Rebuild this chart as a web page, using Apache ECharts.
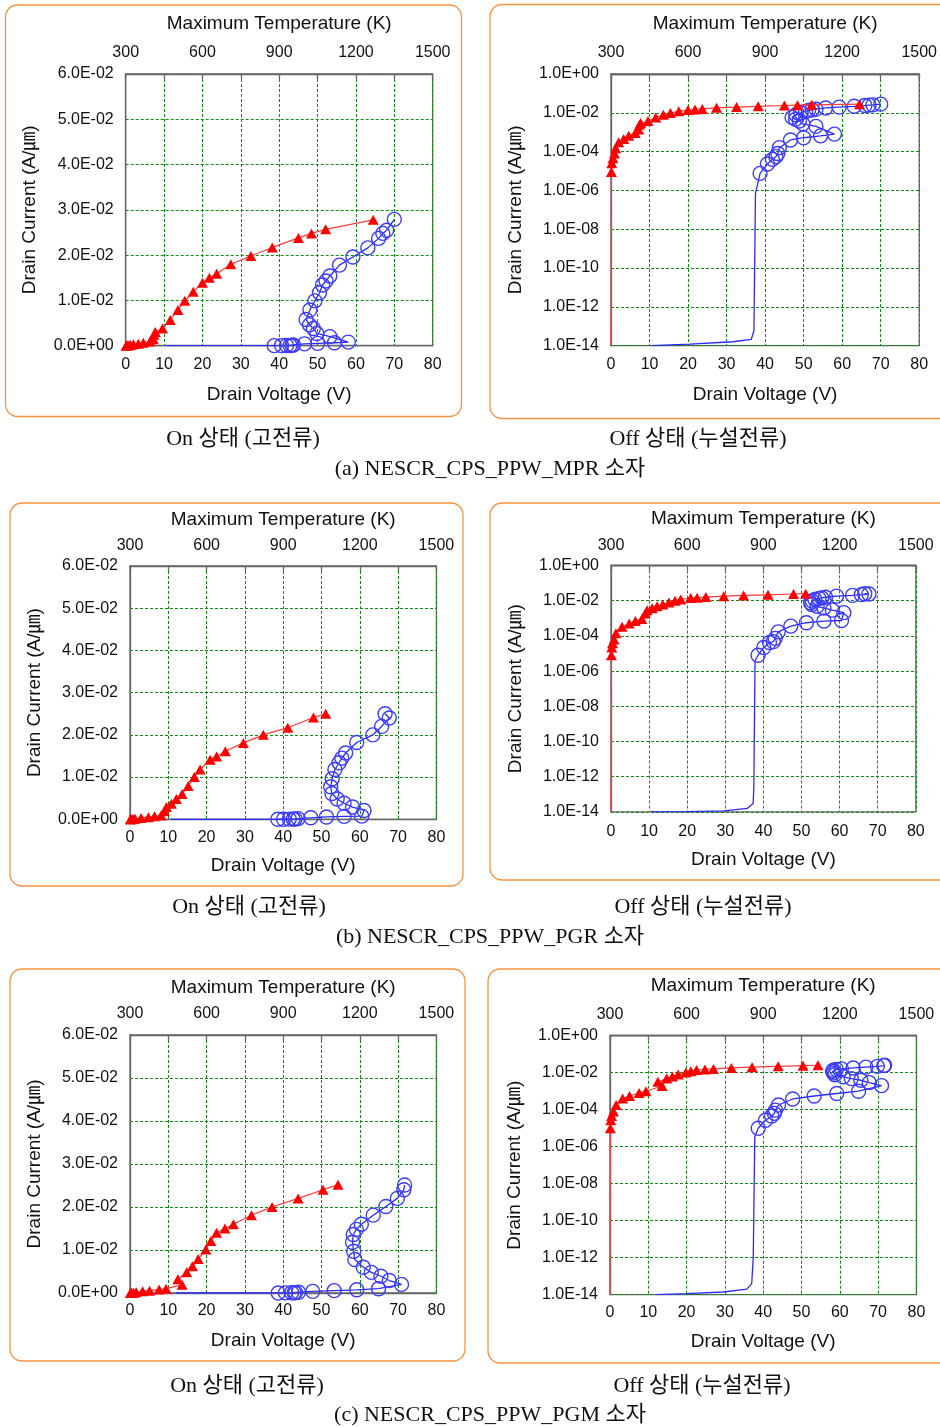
<!DOCTYPE html>
<html><head><meta charset="utf-8">
<script src="https://cdn.jsdelivr.net/npm/echarts@6/dist/echarts.min.js"></script>
<style>html,body{margin:0;padding:0;background:#fff}#c{width:940px;height:1427px}</style>
</head><body><div id="c"></div><script>
// ---------------- data ----------------
const voltageRange = [0, 80];
const voltageStep = 10;
const temperatureRange = [300, 1500];
const temperatureLabelStep = 300;
const linearCurrentRange = [0, 0.06];
const linearCurrentStep = 0.01;
const logCurrentRange = [1e-14, 1];
const logDecadeRange = [-14, 0];   // tick labels 1.0E-14 ... 1.0E+00
const logDecadeStep = 2;

const axisTitles = ['Maximum Temperature (K)', 'Drain Voltage (V)', 'Drain Current (A/\u339B)'];
const stateCaptions = ['On 상태 (고전류)', 'Off 상태 (누설전류)'];
const deviceCaptions = ['(a) NESCR_CPS_PPW_MPR 소자', '(b) NESCR_CPS_PPW_PGR 소자', '(c) NESCR_CPS_PPW_PGM 소자'];

// (a) MPR  [V, A/um]
const mprTriangleLead = [[0, 1e-14]];
const mprTriangle = [[0.1,9e-6],[0.2,2.5e-5],[0.5,4.5e-5],[0.9,8e-5],[1.2,1.5e-4],[2.0,3e-4],[3.3,4.5e-4],[4.6,6.5e-4],[6.3,9e-4],[7.2,1.4e-3],[7.4,2.4e-3],[7.7,3.0e-3],[9.6,3.8e-3],[11.6,5.7e-3],[13.6,7.9e-3],[15.4,9.9e-3],[17.6,1.19e-2],[20.0,1.39e-2],[21.8,1.5e-2],[23.7,1.59e-2],[27.4,1.8e-2],[32.6,1.98e-2],[38.2,2.17e-2],[45.0,2.38e-2],[48.4,2.48e-2],[52.1,2.57e-2],[64.5,2.78e-2]];
const mprCircleLead = [[10.4,1e-14],[20.5,1.2e-14],[31.7,1.6e-14],[36.4,2.1e-14],[37.1,6e-14],[37.5,7e-7]];
const mprCircle = [[38.7,7.6e-6],[40.6,2.3e-5],[41.9,4e-5],[42.8,5.5e-5],[43.3,8e-5],[43.7,1.6e-4],[46.6,4e-4],[50.0,5.2e-4],[54.4,6.5e-4],[58.0,8e-4],[53.2,2e-3],[49.8,2.7e-3],[48.9,3.8e-3],[47.9,4.6e-3],[47.0,5.8e-3],[48.0,7.9e-3],[49.3,9.9e-3],[50.5,1.17e-2],[51.3,1.34e-2],[52.2,1.43e-2],[53.2,1.54e-2],[55.7,1.78e-2],[59.2,1.96e-2],[63.1,2.16e-2],[65.9,2.37e-2],[67.0,2.48e-2],[68.0,2.55e-2],[70.0,2.79e-2]];

// (b) PGR
const pgrTriangleLead = [[0, 1e-14]];
const pgrTriangle = [[0.1,8e-6],[0.2,2.2e-5],[0.4,3.8e-5],[0.8,6.3e-5],[1.3,1.4e-4],[2.9,3.3e-4],[4.8,5.1e-4],[6.4,7e-4],[8.1,9e-4],[9.0,1.9e-3],[9.5,2.9e-3],[10.8,3.7e-3],[12.1,4.8e-3],[13.6,6e-3],[15.2,7.9e-3],[16.8,1.0e-2],[18.3,1.18e-2],[20.9,1.41e-2],[22.6,1.49e-2],[24.9,1.61e-2],[29.6,1.81e-2],[34.8,2.0e-2],[41.2,2.17e-2],[47.9,2.41e-2],[51.1,2.5e-2]];
const pgrCircleLead = [[10.6,1e-14],[20.0,1.05e-14],[29.6,1.15e-14],[35.8,1.6e-14],[37.3,3e-14],[37.5,3e-13],[37.8,4e-6]];
const pgrCircle = [[38.6,8e-6],[40.1,2.2e-5],[41.6,4.2e-5],[42.6,4.7e-5],[43.1,7.2e-5],[43.9,1.7e-4],[47.2,3.6e-4],[51.3,5.6e-4],[55.9,7e-4],[60.5,7.5e-4],[61.1,2.1e-3],[58.1,2.9e-3],[55.9,3.8e-3],[54.1,4.8e-3],[52.7,6.1e-3],[52.4,7.7e-3],[52.8,9.6e-3],[53.5,1.18e-2],[54.6,1.34e-2],[55.3,1.45e-2],[56.3,1.57e-2],[59.2,1.82e-2],[63.4,2.0e-2],[65.7,2.2e-2],[67.7,2.4e-2],[66.6,2.5e-2]];

// (c) PGM
const pgmTriangleLead = [[0, 1e-14]];
const pgmTriangle = [[0.1,1e-5],[0.2,2.7e-5],[0.4,4.6e-5],[0.9,8e-5],[1.6,1.8e-4],[3.3,4e-4],[5.1,5.5e-4],[7.6,8e-4],[9.4,1.0e-3],[13.6,1.9e-3],[12.5,3.2e-3],[14.8,4.8e-3],[16.3,6.2e-3],[17.8,7.9e-3],[19.8,1.01e-2],[21.1,1.21e-2],[22.6,1.4e-2],[24.8,1.5e-2],[27.0,1.6e-2],[31.7,1.81e-2],[37.1,2.0e-2],[43.9,2.2e-2],[50.4,2.4e-2],[54.3,2.52e-2]];
const pgmCircleLead = [[12.0,1e-14],[20.0,1.15e-14],[29.6,1.4e-14],[35.7,2e-14],[37.0,4e-14],[37.4,1e-12],[37.8,3.5e-6]];
const pgmCircle = [[38.7,1e-5],[40.6,2.7e-5],[42.2,4.6e-5],[42.9,6.3e-5],[43.2,9.5e-5],[44.0,1.8e-4],[47.7,3.8e-4],[53.3,5.5e-4],[59.2,7.5e-4],[64.9,1.0e-3],[70.9,2.0e-3],[67.7,2.9e-3],[65.5,3.9e-3],[63.0,4.8e-3],[60.9,6.0e-3],[58.7,7.8e-3],[58.4,9.7e-3],[58.1,1.18e-2],[58.3,1.36e-2],[59.1,1.48e-2],[60.4,1.6e-2],[63.5,1.81e-2],[66.8,2.01e-2],[69.8,2.2e-2],[71.5,2.4e-2],[71.7,2.51e-2]];

// ---------------- layout ----------------
const devices = [
  {tri: mprTriangle, triLead: mprTriangleLead, cir: mprCircle, cirLead: mprCircleLead},
  {tri: pgrTriangle, triLead: pgrTriangleLead, cir: pgrCircle, cirLead: pgrCircleLead},
  {tri: pgmTriangle, triLead: pgmTriangleLead, cir: pgmCircle, cirLead: pgmCircleLead}
];
const panels = [
  {dev:0, log:false, g:[125.7,74,307,271.7], box:[5.5,5,456,411.5], tl:13, bl:11, tg:41, bg:40},
  {dev:0, log:true,  g:[611,74,309,271.7],   box:[490,4.5,470,414], tl:13, bl:11, tg:41, bg:40},
  {dev:1, log:false, g:[130,566,306.4,253.3], box:[10,503,453,383], tl:12, bl:10, tg:37, bg:37},
  {dev:1, log:true,  g:[611,565.5,304.8,246.4], box:[490,503,470,377], tl:12, bl:12, tg:37, bg:38},
  {dev:2, log:false, g:[130,1035,306.4,258],  box:[10,969,455,392], tl:13, bl:10, tg:38, bg:38},
  {dev:2, log:true,  g:[610,1035.7,306.4,259], box:[488,969,470,394], tl:13, bl:10, tg:40, bg:38}
];
const captionRows = [
  {y1:439, y2:469, on:243, off:698},
  {y1:907, y2:937, on:249, off:703},
  {y1:1386, y2:1415, on:247, off:702}
];

const SANS = '"Liberation Sans", Arial, "Noto Sans CJK KR", sans-serif';
const SERIF = '"Liberation Serif", "DejaVu Serif", "Noto Sans CJK KR", serif';
const TXT = '#111';
const GRIDC = '#138a13';
const FRAME = '#666';
const NAME_SIZE = 19;

function sci(v) {
  if (v === 0) return '0.0E+00';
  const e = Math.floor(Math.log10(v) + 1e-9);
  const m = v / Math.pow(10, e);
  return m.toFixed(1) + 'E' + (e < 0 ? '-' : '+') + String(Math.abs(e)).padStart(2, '0');
}
function decadeLabel(e) {
  e = Math.round(e);
  return '1.0E' + (e < 0 ? '-' : '+') + String(Math.abs(e)).padStart(2, '0');
}
function items(lead, marked) {
  return lead.map(p => ({value: p, symbol: 'none'})).concat(marked.map(p => ({value: p})));
}

const grid = [], xAxis = [], yAxis = [], series = [], graphic = [];
panels.forEach((p, i) => {
  grid.push({left: p.g[0], top: p.g[1], width: p.g[2], height: p.g[3], show: true,
    borderColor: FRAME, borderWidth: 1.3, backgroundColor: 'transparent'});
  xAxis.push({type: 'value', gridIndex: i, position: 'bottom', min: voltageRange[0], max: voltageRange[1], interval: voltageStep,
    axisLine: {lineStyle: {color: FRAME, width: 1.3}}, axisTick: {show: false},
    axisLabel: {color: TXT, fontSize: 16, fontFamily: SANS, margin: p.bl},
    splitLine: {show: true, lineStyle: {color: GRIDC, type: [3, 2], width: 1}},
    name: axisTitles[1], nameLocation: 'middle', nameGap: p.bg,
    nameTextStyle: {color: TXT, fontSize: NAME_SIZE, fontFamily: SANS}});
  xAxis.push({type: 'value', gridIndex: i, position: 'top', min: temperatureRange[0], max: temperatureRange[1], interval: temperatureLabelStep / 2,
    axisLine: {show: true, lineStyle: {color: FRAME, width: 1.3}},
    axisTick: {show: true, inside: true, length: 5, lineStyle: {color: FRAME, width: 1.3}},
    axisLabel: {color: TXT, fontSize: 16, fontFamily: SANS, margin: p.tl,
      formatter: v => (v % temperatureLabelStep === 0 ? String(v) : '')},
    splitLine: {show: false},
    name: axisTitles[0], nameLocation: 'middle', nameGap: p.tg,
    nameTextStyle: {color: TXT, fontSize: NAME_SIZE, fontFamily: SANS}});
  const shown = {axisLine: {lineStyle: {color: FRAME, width: 1.3}}, axisTick: {show: false},
    axisLabel: {color: TXT, fontSize: 16, fontFamily: SANS, margin: 12},
    splitLine: {show: true, lineStyle: {color: GRIDC, type: [3, 2], width: 1}},
    name: axisTitles[2], nameLocation: 'middle', nameGap: 86, nameRotate: 90,
    nameTextStyle: {color: TXT, fontSize: NAME_SIZE, fontFamily: SANS}};
  let dataY;
  if (p.log) {
    // data axis (true log scale), hidden
    dataY = yAxis.length;
    yAxis.push({type: 'log', logBase: 10, gridIndex: i, position: 'left', min: logCurrentRange[0], max: logCurrentRange[1],
      show: false, splitLine: {show: false}});
    // display axis: ticks every two decades
    const disp = Object.assign({type: 'value', gridIndex: i, position: 'left', min: logDecadeRange[0], max: logDecadeRange[1],
      interval: logDecadeStep}, shown);
    disp.axisLabel = Object.assign({}, shown.axisLabel, {formatter: decadeLabel});
    yAxis.push(disp);
  } else {
    dataY = yAxis.length;
    const ax = Object.assign({type: 'value', gridIndex: i, position: 'left', min: linearCurrentRange[0], max: linearCurrentRange[1],
      interval: linearCurrentStep}, shown);
    ax.axisLabel = Object.assign({}, shown.axisLabel, {formatter: sci});
    yAxis.push(ax);
  }
  const d = devices[p.dev];
  series.push({type: 'line', xAxisIndex: 2 * i, yAxisIndex: dataY, data: items(d.cirLead, d.cir),
    symbol: 'circle', symbolSize: 14, showAllSymbol: true, clip: true, z: 2,
    lineStyle: {color: '#2a2aff', width: 1.3},
    itemStyle: {color: 'rgba(255,255,255,0)', borderColor: '#3c3cff', borderWidth: 1.4},
    emphasis: {disabled: true}});
  series.push({type: 'line', xAxisIndex: 2 * i, yAxisIndex: dataY, data: items(d.triLead, d.tri),
    symbol: 'triangle', symbolSize: [11, 10], showAllSymbol: true, clip: true, z: 3,
    lineStyle: {color: '#ff3a3a', width: 1.2},
    itemStyle: {color: '#ff0000'},
    emphasis: {disabled: true}});
  graphic.push({type: 'rect', shape: {x: p.box[0], y: p.box[1], width: p.box[2], height: p.box[3], r: 12},
    style: {fill: 'none', stroke: '#f7923f', lineWidth: 1.3}, z: 0, silent: true});
});
captionRows.forEach((c, r) => {
  const st = {fontSize: 22, fontFamily: SERIF, fill: '#111', align: 'center', verticalAlign: 'middle'};
  graphic.push({type: 'text', x: c.on, y: c.y1, style: Object.assign({text: stateCaptions[0]}, st)});
  graphic.push({type: 'text', x: c.off, y: c.y1, style: Object.assign({text: stateCaptions[1]}, st)});
  graphic.push({type: 'text', x: 490, y: c.y2, style: Object.assign({text: deviceCaptions[r]}, st)});
});

const chart = echarts.init(document.getElementById('c'), null, {renderer: 'canvas'});
chart.setOption({animation: false, backgroundColor: '#fff', grid, xAxis, yAxis, series, graphic});
</script></body></html>
